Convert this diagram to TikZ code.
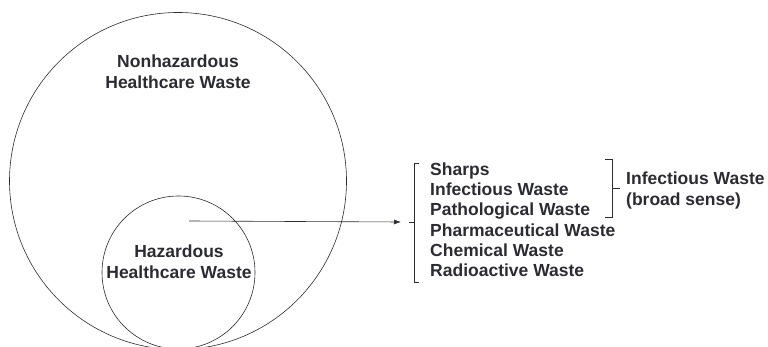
\documentclass[tikz,border=0pt]{standalone}
\usepackage{fontspec}
\setmainfont{Liberation Sans}
\usetikzlibrary{positioning,arrows.meta}
\definecolor{ink}{HTML}{2B2B33}

\begin{document}
\begin{tikzpicture}[x=1pt, y=-1pt, >={Latex[length=7pt,width=5pt]},
                    font=\bfseries\fontsize{17.5}{21}\selectfont, text=ink]
  \tikzstyle{ring}=[draw=ink, circle, inner sep=0pt, line width=0.6pt]
  \tikzstyle{lbl}=[align=center, inner sep=0pt]
  \tikzstyle{item}=[anchor=base west, inner sep=0pt]
  \tikzstyle{brk}=[draw=ink, line width=0.6pt]
  \useasboundingbox (0,0) rectangle (768,347);
  \clip (0,0) rectangle (768,347);

  % ================= the two circles =================
  \node[ring, minimum size=337pt] (outer) at (178,181) {};
  \node[ring, minimum size=153pt] (inner) at (178.5,272.5) {};
  \node[lbl] (nonhaz) at (178,72) {Nonhazardous\\Healthcare Waste};
  \node[lbl] (haz) at (179,261.5) {Hazardous\\Healthcare Waste};

  % ================= list of hazardous types =================
  \foreach \t [count=\i] in {Sharps, Infectious Waste, Pathological Waste,
                             Pharmaceutical Waste, Chemical Waste, Radioactive Waste}
    \node[item] (w\i) at (430,155.3+20.2*\i) {\t};

  % left bracket round the whole list
  \coordinate (lbtop) at (419,163);
  \coordinate (lbbot) at (419,282);
  \coordinate (lbtick) at (409,222);
  \draw[brk] (lbtop) -- (414,163) -- (414,282) -- (lbbot);
  \draw[brk] (414,222) -- (lbtick);

  % right bracket round the first three
  \coordinate (rbtick) at (620,188);
  \draw[brk] (605,159) -- (612,159) -- (612,217) -- (605,217);
  \draw[brk] (612,188) -- (rbtick);
  \node[item] (broad1) at (626,185) {Infectious Waste};
  \node[item] (broad2) at (626,206) {(broad sense)};

  % ================= arrow from the hazardous circle =================
  \coordinate (hz) at (189,221);
  \draw[->, draw=ink, line width=0.6pt] (hz) -- ([xshift=-8pt]lbtick);
\end{tikzpicture}
\end{document}
